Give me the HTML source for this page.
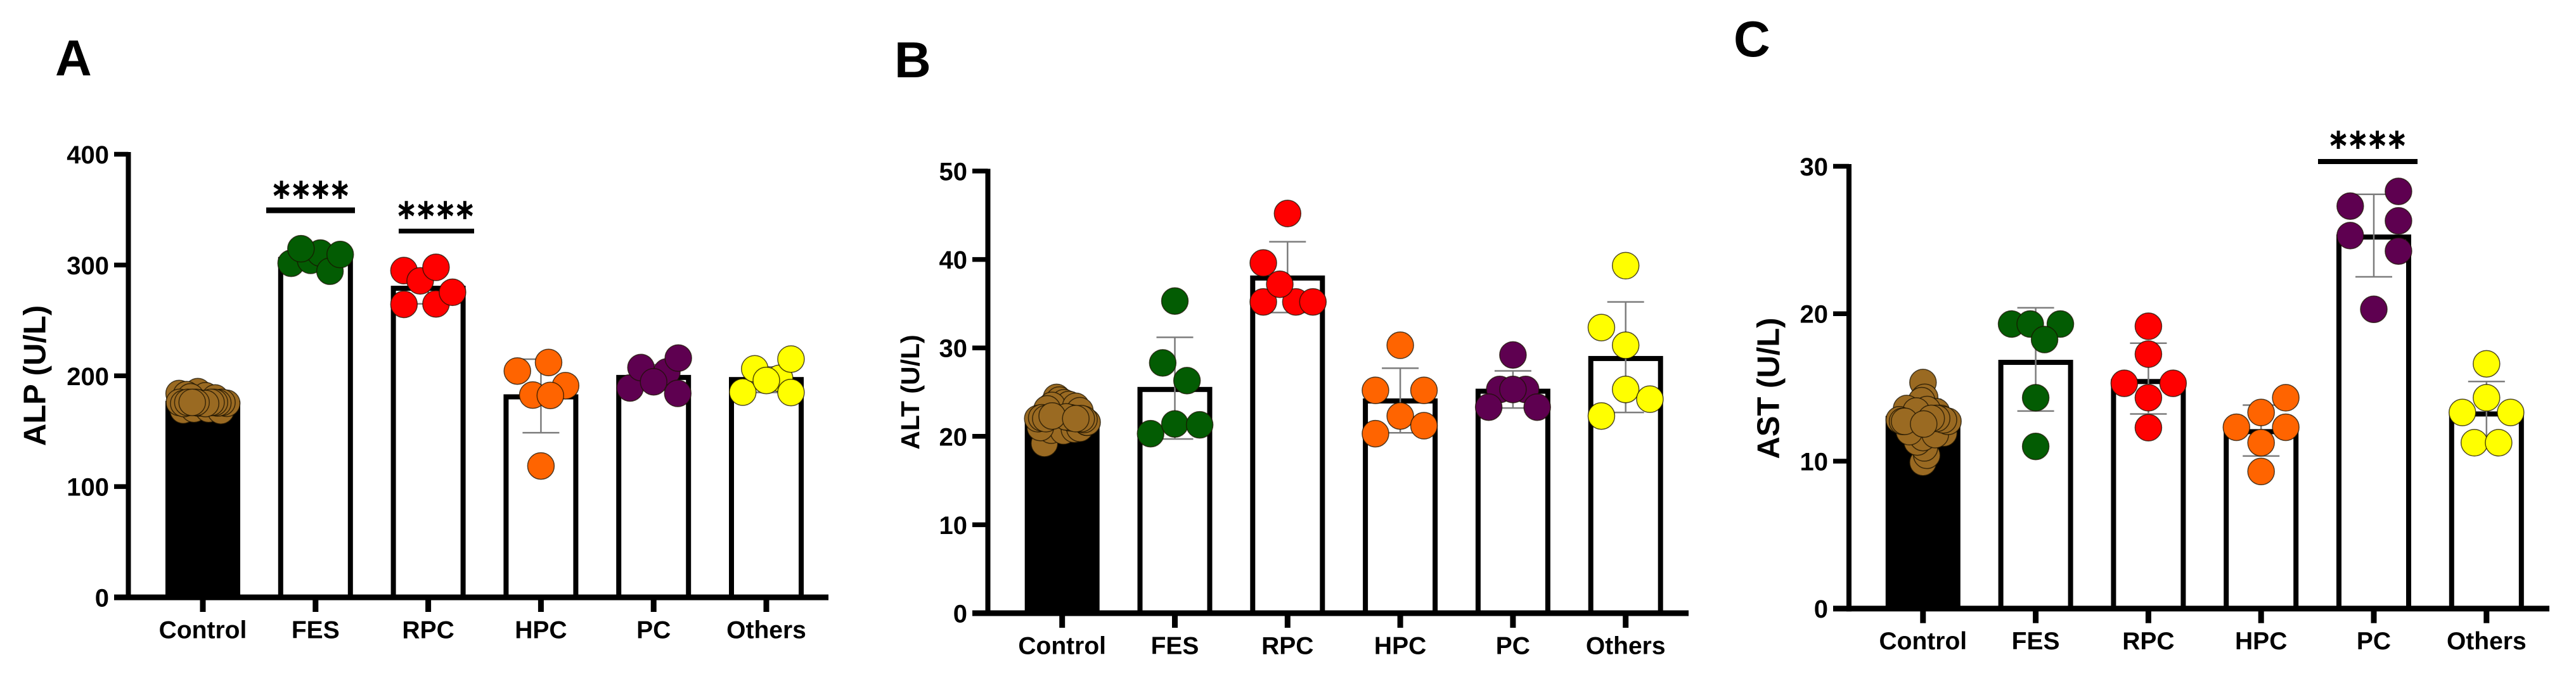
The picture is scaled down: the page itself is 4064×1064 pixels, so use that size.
<!DOCTYPE html>
<html lang="en">
<head>
<meta charset="utf-8">
<title>ALP, ALT and AST by group</title>
<style>
html,body{margin:0;padding:0;background:#fff;}
body{width:4064px;height:1064px;overflow:hidden;}
svg{display:block;}
text{font-family:"Liberation Sans",Arial,sans-serif;font-weight:700;fill:#000;}
</style>
</head>
<body>
<svg id="figure" xmlns="http://www.w3.org/2000/svg" width="4064" height="1064" viewBox="0 0 4064 1064"></svg>
<script>
// Shared categories
const groups = ['Control','FES','RPC','HPC','PC','Others'];
const dotColors = ['#9a6a22','#035c03','#ff0000','#ff6400','#5e0050','#ffff00'];

// Panel A: ALP
const alpTicks = [0,100,200,300,400];
const alpMeans = [175,305,279,181,198.5,196.6];
const alpErrHigh = [188,314,293,215,210,208];
const alpErrLow = [164,296,265,148.6,187,185];
const alpPoints = [
  [169,170,170,168.5,184,185.7,183,182,180,181,176,175.2,176,175.5,176,175,176,175.5,176,175,176,176],
  [301.6,304.2,310.8,294.4,314.7,309.5],
  [295,264.5,264.9,285.7,297.9,275.4],
  [204.3,212,191.1,182.6,182.3,118.6],
  [189,207.4,203.5,194.6,216,184.1],
  [185.3,206.3,197.7,195.8,215.1,184.9]
];
const alpJitter = [
  [-1.44,-0.65,0.42,1.32,-1.74,-0.37,-1.2,0.2,0.9,-0.9,-1.72,1.75,1.4,1.1,0.85,-1.4,-1.1,-0.3,0.6,0.2,-0.5,-0.78],
  [-1.79,-0.36,0.35,1.06,-1.07,1.81],
  [-1.78,-1.78,0.57,-0.59,0.57,1.78],
  [-1.73,0.56,1.81,-0.6,0.69,0],
  [-1.73,-0.93,0.97,0,1.81,1.77],
  [-1.73,-0.85,0.97,0,1.81,1.81]
];

// Panel B: ALT
const altTicks = [0,10,20,30,40,50];
const altMeans = [21.7,25.3,37.9,24,25.1,28.8];
const altErrHigh = [23.2,31.2,42,27.7,27.4,35.2];
const altErrLow = [20.2,19.7,34,20.4,23.2,22.7];
const altPoints = [
  [24.4,24.1,23.8,23.6,23.5,23.4,23.1,22.9,19.2,20.7,20.6,20.8,20.9,21,21.6,22,21.6,21.9,22,22.1,22,22.1,22.2,22.3,22],
  [35.3,28.3,26.3,20.3,21.4,21.3],
  [45.2,39.6,35.2,35.2,35.2,37.2],
  [30.3,25.2,25.2,22.3,20.3,21.2],
  [29.2,25.3,25.3,25.3,23.3,23.3],
  [39.3,32.3,30.3,25.3,24.2,22.3]
];
const altJitter = [
  [-0.41,-0.2,0.15,0.5,-0.75,1,-1.1,1.3,-1.3,-0.8,0.1,0.9,1.3,-1.6,1.8,-1.79,1.83,1.6,1.4,-1.5,-1.2,0.6,0.3,-0.73,1],
  [0,-0.89,0.89,-1.78,0,1.82],
  [0,-1.78,-1.78,0.61,1.86,-0.57],
  [0,-1.82,1.74,0,-1.82,1.74],
  [0,-0.97,0.93,0,-1.78,1.78],
  [0,-1.78,0,0,1.78,-1.78]
];

// Panel C: AST
const astTicks = [0,10,20,30];
const astMeans = [12.9,16.7,15.4,12,25.2,13.2];
const astErrHigh = [14.2,20.4,18,13.8,28.1,15.4];
const astErrLow = [11.6,13.4,13.2,10.35,22.5,11];
const astPoints = [
  [15.33,14.33,14.1,13.57,13.35,13.5,13.4,12.9,9.92,10.4,10.9,11.3,11.6,11.9,11.8,12,12.8,12.7,12.8,12.7,12.7,12.9,12.9,12.52],
  [19.3,19.3,19.3,18.25,14.3,11],
  [19.15,17.26,15.28,15.28,14.3,12.27],
  [14.3,13.3,12.3,12.3,11.25,9.3],
  [28.3,27.3,26.3,25.3,24.25,20.3],
  [16.6,14.3,13.3,13.3,11.25,11.25]
];
const astJitter = [
  [0,0.12,-0.1,-1.2,0.98,0.3,-0.5,1.3,0,0.28,0.1,-0.42,0,1.52,0.9,-1,-1.74,1.83,1.5,-1.5,-1.35,1,0.6,0.05],
  [-1.77,-0.4,1.81,0.65,0,0],
  [0,0,-1.77,1.81,0,0],
  [1.81,0,-1.81,1.81,0,0],
  [1.81,-1.73,1.81,-1.73,1.81,0],
  [0,0,-1.77,1.77,-0.89,0.89]
];

const svgNS = 'http://www.w3.org/2000/svg';
const svg = document.getElementById('figure');
const DOT_R = 21.5;

function make(parent, tag, attrs, content) {
  const el = document.createElementNS(svgNS, tag);
  for (const k in attrs) el.setAttribute(k, attrs[k]);
  if (content !== undefined) el.textContent = content;
  parent.appendChild(el);
  return el;
}

function drawLine(parent, x1, y1, x2, y2, width, color) {
  return make(parent, 'line', {x1:x1, y1:y1, x2:x2, y2:y2, stroke:color, 'stroke-width':width});
}

function drawPanel(p) {
  const g = make(svg, 'g', {});
  
  

  const yMax = p.ticks[p.ticks.length - 1];
  const yScale = v => p.y0 - (v / yMax) * (p.y0 - p.yTop);
  const xScale = i => p.c0 + i * p.band;

  const letter = make(g, 'text', {x:p.letterX, y:p.letterY, 'font-size':80}, p.letter);
  
  

  const title = make(g, 'text', {
    x:p.titleX, y:p.titleY, 'font-size':p.titleSize, 'text-anchor':'middle',
    transform:'rotate(-90 ' + p.titleX + ' ' + p.titleY + ')'
  }, p.title);
  
  

  // Bars
  groups.forEach((name, i) => {
    const top = yScale(p.means[i]);
    const bar = make(g, 'rect', {
      x:xScale(i) - 55, y:top, width:110, height:p.y0 - top,
      fill:i === 0 ? '#000' : '#fff', stroke:'#000', 'stroke-width':8
    });
    
    
  });

  // Error bars
  groups.forEach((name, i) => {
    const eg = make(g, 'g', {});
    
    
    const cx = xScale(i);
    const hi = yScale(p.errHigh[i]);
    const lo = yScale(p.errLow[i]);
    drawLine(eg, cx, hi, cx, lo, 2.5, '#7c7c7c');
    drawLine(eg, cx - 29, hi, cx + 29, hi, 2.5, '#7c7c7c');
    drawLine(eg, cx - 29, lo, cx + 29, lo, 2.5, '#7c7c7c');
  });

  // Axes
  const yAxis = make(g, 'g', {});
  
  
  drawLine(yAxis, p.axisX, yScale(yMax) - 3.5, p.axisX, p.y0 + 4.5, 8, '#000');
  p.ticks.forEach(t => {
    const y = yScale(t);
    if (t !== 0) drawLine(yAxis, p.tickLeft, y, p.axisX, y, 7.5, '#000');
    const label = make(yAxis, 'text', {
      x:p.tickLeft - 8, y:y + 14.5, 'font-size':40, 'text-anchor':'end'
    }, String(t));
    
    
  });

  const xAxis = make(g, 'g', {});
  
  
  drawLine(xAxis, p.tickLeft, p.y0, p.axisEnd, p.y0, 9, '#000');
  groups.forEach((name, i) => {
    const cx = xScale(i);
    drawLine(xAxis, cx, p.y0, cx, p.y0 + 23, 9, '#000');
    const label = make(xAxis, 'text', {
      x:cx, y:p.y0 + 64.5, 'font-size':39, 'text-anchor':'middle'
    }, name);
    
    
  });

  // Points
  groups.forEach((name, i) => {
    const dg = make(g, 'g', {});
    
    
    p.points[i].forEach((v, k) => {
      const dot = make(dg, 'circle', {
        cx:xScale(i) + p.jitter[i][k] * DOT_R,
        cy:yScale(v),
        r:DOT_R - 0.5,
        fill:dotColors[i],
        stroke:'#1a1200',
        'stroke-opacity':0.75,
        'stroke-width':1.5
      });
      
      
    });
  });

  // Significance brackets
  p.sig.forEach(s => {
    const sg = make(g, 'g', {});
    
    
    make(sg, 'rect', {x:s.x1, y:s.y, width:s.x2 - s.x1, height:s.h, fill:'#000'});
    make(sg, 'text', {
      transform:'translate(' + s.starX + ' ' + (s.starY + 5) + ') scale(1 1.2)',
      'font-size':50, 'letter-spacing':'4.6px', stroke:'#000', 'stroke-width':0.8,
      style:'font-family:"DejaVu Sans",sans-serif;font-weight:700'
    }, '****');
  });
}

drawPanel({
  key:'alp', letter:'A', letterX:87, letterY:119, title:'ALP (U/L)', titleX:71.5, titleY:593, titleSize:49,
  ticks:alpTicks, means:alpMeans, errHigh:alpErrHigh, errLow:alpErrLow, points:alpPoints, jitter:alpJitter,
  y0:943, yTop:243.5, c0:320, band:177.8, axisX:202.5, tickLeft:180, axisEnd:1307,
  sig:[
    {group:'fes', x1:420, x2:560, y:327.5, h:9, starX:431, starY:325},
    {group:'rpc', x1:629, x2:748, y:361, h:7.5, starX:628, starY:357}
  ]
});
drawPanel({
  key:'alt', letter:'B', letterX:1411, letterY:122, title:'ALT (U/L)', titleX:1450, titleY:619, titleSize:41,
  ticks:altTicks, means:altMeans, errHigh:altErrHigh, errLow:altErrLow, points:altPoints, jitter:altJitter,
  y0:968, yTop:270, c0:1675.7, band:177.8, axisX:1558.5, tickLeft:1534, axisEnd:2664,
  sig:[]
});
drawPanel({
  key:'ast', letter:'C', letterX:2735, letterY:89, title:'AST (U/L)', titleX:2806.5, titleY:613, titleSize:49,
  ticks:astTicks, means:astMeans, errHigh:astErrHigh, errLow:astErrLow, points:astPoints, jitter:astJitter,
  y0:960.7, yTop:262.5, c0:3033.8, band:177.8, axisX:2917, tickLeft:2892, axisEnd:4022,
  sig:[
    {group:'pc', x1:3657, x2:3814, y:251, h:8, starX:3676, starY:246}
  ]
});
</script>
</body>
</html>
